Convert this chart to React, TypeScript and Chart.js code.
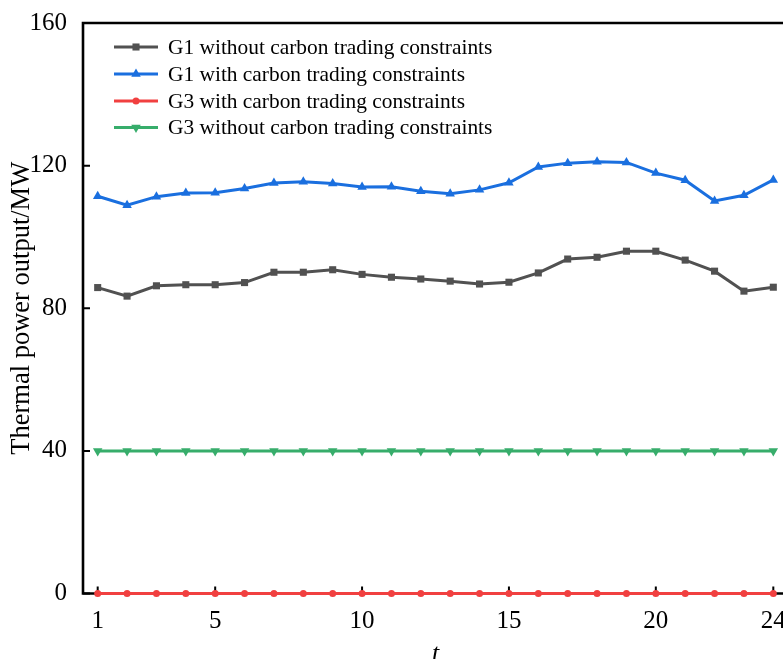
import React, { useEffect, useRef } from "react";
import { Chart, registerables } from "chart.js";

Chart.register(...registerables);

const hours = [1, 2, 3, 4, 5, 6, 7, 8, 9, 10, 11, 12, 13, 14, 15, 16, 17, 18, 19, 20, 21, 22, 23, 24];
const g1Without = [85.8, 83.4, 86.3, 86.6, 86.6, 87.2, 90.1, 90.1, 90.8, 89.5, 88.7, 88.2, 87.6, 86.8, 87.3, 89.9, 93.8, 94.3, 96.0, 96.0, 93.5, 90.4, 84.8, 85.9];
const g1With = [111.4, 108.9, 111.3, 112.3, 112.4, 113.6, 115.1, 115.5, 115.0, 114.0, 114.1, 112.8, 112.1, 113.2, 115.2, 119.6, 120.7, 121.1, 120.9, 117.9, 115.9, 110.1, 111.7, 116.0];
const g3With = [0, 0, 0, 0, 0, 0, 0, 0, 0, 0, 0, 0, 0, 0, 0, 0, 0, 0, 0, 0, 0, 0, 0, 0];
const g3Without = [40, 40, 40, 40, 40, 40, 40, 40, 40, 40, 40, 40, 40, 40, 40, 40, 40, 40, 40, 40, 40, 40, 40, 40];
const xTickValues = [1, 5, 10, 15, 20, 24];
const yTickValues = [0, 40, 80, 120, 160];
const seriesNames = [
  "G1 without carbon trading constraints",
  "G1 with carbon trading constraints",
  "G3 with carbon trading constraints",
  "G3 without carbon trading constraints",
];
const yTitle = "Thermal power output/MW";
const xTitle = "t";

const SERIF = "'Liberation Serif', 'Times New Roman', serif";

function drawMarker(ctx: CanvasRenderingContext2D, style: string, rotation: number, r: number, x: number, y: number, color: string) {
  ctx.save();
  ctx.fillStyle = color;
  ctx.beginPath();
  if (style === "rect") {
    const s = Math.SQRT1_2 * r;
    ctx.rect(x - s, y - s, 2 * s, 2 * s);
  } else if (style === "triangle") {
    let rad = (rotation * Math.PI) / 180;
    ctx.moveTo(x + Math.sin(rad) * r, y - Math.cos(rad) * r);
    rad += (2 * Math.PI) / 3;
    ctx.lineTo(x + Math.sin(rad) * r, y - Math.cos(rad) * r);
    rad += (2 * Math.PI) / 3;
    ctx.lineTo(x + Math.sin(rad) * r, y - Math.cos(rad) * r);
    ctx.closePath();
  } else {
    ctx.arc(x, y, r, 0, Math.PI * 2);
  }
  ctx.fill();
  ctx.restore();
}

const framePlugin = {
  id: "frame",
  beforeDatasetsDraw(chart: any) {
    const { ctx, chartArea: ca, scales } = chart;
    ctx.save();
    ctx.strokeStyle = "#000";
    ctx.lineWidth = 2.6;
    ctx.beginPath();
    ctx.moveTo(ca.left, ca.bottom);
    ctx.lineTo(ca.left, ca.top);
    ctx.lineTo(ca.right, ca.top);
    ctx.lineTo(ca.right, ca.bottom);
    ctx.closePath();
    ctx.stroke();
    ctx.lineWidth = 2;
    ctx.beginPath();
    for (const v of yTickValues) {
      const y = scales.y.getPixelForValue(v);
      ctx.moveTo(ca.left, y);
      ctx.lineTo(ca.left + 7, y);
    }
    for (const v of xTickValues) {
      const x = scales.x.getPixelForValue(v);
      ctx.moveTo(x, ca.bottom);
      ctx.lineTo(x, ca.bottom - 7);
    }
    ctx.stroke();
    ctx.restore();
  },
  afterDraw(chart: any) {
    const { ctx, chartArea: ca } = chart;
    ctx.save();
    // legend
    const rowY = [47, 74, 101, 127.5];
    chart.data.datasets.forEach((ds: any, i: number) => {
      const y = rowY[i];
      ctx.strokeStyle = ds.borderColor;
      ctx.lineWidth = ds.borderWidth;
      ctx.beginPath();
      ctx.moveTo(114, y);
      ctx.lineTo(158, y);
      ctx.stroke();
      drawMarker(ctx, ds.pointStyle, ds.pointRotation || 0, ds.pointRadius, 136, y, ds.borderColor);
      ctx.fillStyle = "#000";
      ctx.font = `21.4px ${SERIF}`;
      ctx.textAlign = "left";
      ctx.textBaseline = "middle";
      ctx.fillText(ds.label, 168, y + 1);
    });
    // y title
    ctx.save();
    ctx.translate(29, (ca.top + ca.bottom) / 2);
    ctx.rotate(-Math.PI / 2);
    ctx.font = `26.5px ${SERIF}`;
    ctx.fillStyle = "#000";
    ctx.textAlign = "center";
    ctx.textBaseline = "alphabetic";
    ctx.fillText(yTitle, 0, 0);
    ctx.restore();
    // x title
    ctx.font = `italic 26px ${SERIF}`;
    ctx.fillStyle = "#000";
    ctx.textAlign = "center";
    ctx.textBaseline = "alphabetic";
    ctx.fillText(xTitle, (ca.left + ca.right) / 2, 661);
    ctx.restore();
  },
};

export default function App() {
  const ref = useRef<HTMLCanvasElement | null>(null);
  useEffect(() => {
    document.body.style.margin = "0";
    const canvas = ref.current!;
    const mk = (data: number[]) => hours.map((h, i) => ({ x: h, y: data[i] }));
    const chart = new Chart(canvas, {
      type: "line",
      data: {
        datasets: [
          { label: seriesNames[0], data: mk(g1Without), borderColor: "#515151", backgroundColor: "#515151", borderWidth: 3, pointStyle: "rect", pointRadius: 5, pointBorderWidth: 0, pointBackgroundColor: "#515151", clip: false, order: 2 },
          { label: seriesNames[1], data: mk(g1With), borderColor: "#1A6FDF", backgroundColor: "#1A6FDF", borderWidth: 3, pointStyle: "triangle", pointRadius: 5.5, pointBorderWidth: 0, pointBackgroundColor: "#1A6FDF", clip: false, order: 3 },
          { label: seriesNames[2], data: mk(g3With), borderColor: "#F14040", backgroundColor: "#F14040", borderWidth: 3, pointStyle: "circle", pointRadius: 3.5, pointBorderWidth: 0, pointBackgroundColor: "#F14040", clip: false, order: 0 },
          { label: seriesNames[3], data: mk(g3Without), borderColor: "#37AD6B", backgroundColor: "#37AD6B", borderWidth: 3, pointStyle: "triangle", pointRotation: 180, pointRadius: 5.5, pointBorderWidth: 0, pointBackgroundColor: "#37AD6B", clip: false, order: 1 },
        ] as any,
      },
      options: {
        animation: false,
        responsive: false,
        devicePixelRatio: 1,
        layout: { padding: { top: 23, left: 0, right: 12, bottom: 0 } },
        plugins: { legend: { display: false }, tooltip: { enabled: false } },
        elements: { line: { tension: 0 } },
        scales: {
          x: {
            type: "linear",
            min: 0.5,
            max: 24.5,
            grid: { display: false },
            border: { display: false },
            afterBuildTicks: (s: any) => { s.ticks = xTickValues.map((v) => ({ value: v })); },
            afterFit: (s: any) => { s.height = 65.5; },
            ticks: { color: "#000", font: { family: SERIF, size: 25 }, padding: 5, autoSkip: false, maxRotation: 0 },
          },
          y: {
            min: 0,
            max: 160,
            grid: { display: false },
            border: { display: false },
            afterBuildTicks: (s: any) => { s.ticks = yTickValues.map((v) => ({ value: v })); },
            afterFit: (s: any) => { s.width = 83; },
            ticks: { color: "#000", font: { family: SERIF, size: 25 }, padding: 8 },
          },
        },
      } as any,
      plugins: [framePlugin],
    });
    return () => chart.destroy();
  }, []);
  return (
    <div style={{ width: 783, height: 659, overflow: "hidden", position: "relative", background: "#fff" }}>
      <canvas ref={ref} width={800} height={659} style={{ display: "block", width: 800, height: 659 }} />
    </div>
  );
}
